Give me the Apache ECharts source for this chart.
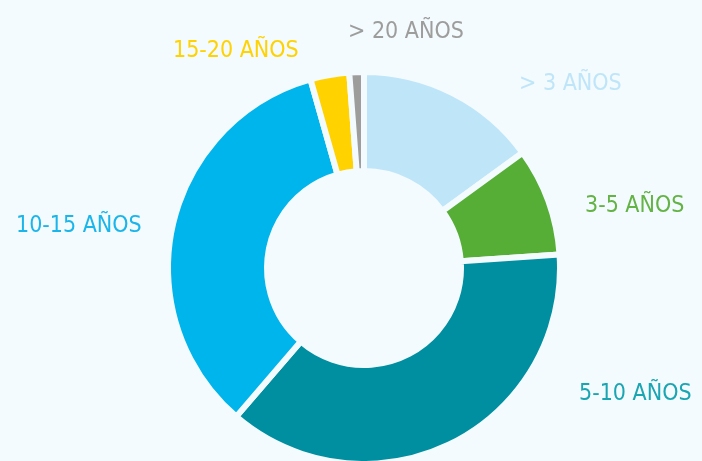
<!DOCTYPE html>
<html lang="es">
<head>
<meta charset="UTF-8">
<title>Antigüedad</title>
<script src="https://cdn.jsdelivr.net/npm/echarts@6/dist/echarts.min.js"></script>
<style>
  html, body { margin: 0; padding: 0; background: #f3fbfe; }
  #chart { width: 702px; height: 461px; }
</style>
</head>
<body>
<div id="chart"></div>
<script>
const categories = ['> 3 AÑOS', '3-5 AÑOS', '5-10 AÑOS', '10-15 AÑOS', '15-20 AÑOS', '> 20 AÑOS'];
const values = [15.0, 8.9, 37.4, 34.3, 3.2, 1.2];
const colors = ['#bfe5f9', '#56ae36', '#008fa0', '#00b4ec', '#ffd200', '#9d9d9c'];
const labelColors = ['#bfe5f9', '#63b345', '#1aa5b3', '#1ab5ea', '#ffd200', '#9d9d9c'];
// left edge / vertical middle of each label
const labelPos = [[519, 84], [585, 206], [579, 394], [16, 226], [173, 51], [348, 32]];

const chart = echarts.init(document.getElementById('chart'));
const FONT = '"Liberation Sans Narrow", "DejaVu Sans Condensed", "Roboto Condensed", sans-serif';

chart.setOption({
  backgroundColor: '#f3fbfe',
  animation: false,
  series: [{
    type: 'pie',
    center: [364, 268],
    radius: [97, 196],
    startAngle: 90,
    clockwise: true,
    avoidLabelOverlap: false,
    itemStyle: { borderColor: '#f3fbfe', borderWidth: 6 },
    label: {
      show: true,
      position: 'outside',
      fontFamily: FONT,
      fontSize: 23,
      formatter: '{b}'
    },
    labelLine: { show: false },
    labelLayout: function (p) {
      const pos = labelPos[p.dataIndex];
      return { x: pos[0], y: pos[1], align: 'left', verticalAlign: 'middle' };
    },
    data: categories.map((name, i) => ({
      name: name,
      value: values[i],
      itemStyle: { color: colors[i] },
      label: { color: labelColors[i] }
    }))
  }]
});
</script>
</body>
</html>
